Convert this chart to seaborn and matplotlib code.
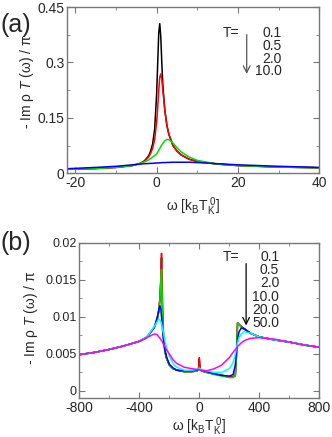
import numpy as np
import pandas as pd
import matplotlib
matplotlib.use("Agg")
import matplotlib.pyplot as plt
from matplotlib.ticker import MultipleLocator, FuncFormatter
import seaborn as sns

# panel (a): spectral function near the Kondo peak
w_a = [-22, -15, -10, -6, -4, -3, -2, -1.5, -1, -0.5, 0, 0.25, 0.5, 0.75, 1, 1.25,
       1.5, 2, 2.5, 3, 4, 5, 6, 8, 10, 15, 20, 30, 40]
a_T01 = [0.011, 0.013, 0.016, 0.021, 0.027, 0.034, 0.047, 0.060, 0.080, 0.12, 0.22, 0.30,
         0.38, 0.405, 0.37, 0.30, 0.24, 0.17, 0.13, 0.105, 0.075, 0.060, 0.050, 0.038,
         0.032, 0.025, 0.021, 0.017, 0.015]
a_T05 = [0.011, 0.013, 0.016, 0.021, 0.027, 0.033, 0.044, 0.054, 0.068, 0.092, 0.14, 0.18,
         0.225, 0.26, 0.269, 0.255, 0.225, 0.17, 0.13, 0.105, 0.075, 0.060, 0.050, 0.038,
         0.032, 0.025, 0.021, 0.017, 0.015]
a_T2 = [0.011, 0.013, 0.016, 0.021, 0.027, 0.031, 0.036, 0.040, 0.044, 0.048, 0.053, 0.057,
        0.062, 0.067, 0.072, 0.077, 0.081, 0.088, 0.092, 0.091, 0.082, 0.069, 0.058, 0.044,
        0.035, 0.025, 0.021, 0.017, 0.015]
a_T10 = [0.0125, 0.016, 0.019, 0.023, 0.025, 0.026, 0.0265, 0.027, 0.027, 0.0275, 0.028, 0.028,
         0.028, 0.0285, 0.0285, 0.029, 0.029, 0.029, 0.0295, 0.0295, 0.030, 0.030, 0.030, 0.030,
         0.029, 0.026, 0.023, 0.019, 0.016]

# panel (b): wide energy range
w_b = [-800, -700, -600, -500, -400, -350, -300, -280, -270, -262, -256, -252, -248, -244,
       -238, -230, -220, -200, -175, -150, -100, -50, -15, -5, 0, 5, 15, 50, 100, 150, 200,
       225, 240, 248, 255, 265, 280, 300, 340, 400, 500, 600, 700, 800]
b_T01 = [0.0049, 0.0052, 0.0056, 0.0061, 0.0067, 0.0072, 0.0086, 0.0097, 0.0108, 0.0126,
         0.0150, 0.0180, 0.0135, 0.0100, 0.0072, 0.0055, 0.0045, 0.0035, 0.0030, 0.0028,
         0.0026, 0.0026, 0.0027, 0.0030, 0.0043, 0.0030, 0.0027, 0.0025, 0.0023, 0.0021,
         0.0019, 0.0019, 0.0021, 0.0050, 0.0092, 0.0090, 0.0087, 0.0084, 0.0078, 0.0073,
         0.0069, 0.0066, 0.0062, 0.0059]
b_T05 = [0.0049, 0.0052, 0.0056, 0.0061, 0.0067, 0.0072, 0.0086, 0.0097, 0.0108, 0.0128,
         0.0155, 0.0186, 0.0140, 0.0100, 0.0072, 0.0055, 0.0045, 0.0035, 0.0030, 0.0028,
         0.0026, 0.0026, 0.0027, 0.0030, 0.0045, 0.0030, 0.0027, 0.0025, 0.0023, 0.0021,
         0.0019, 0.0019, 0.0021, 0.0050, 0.0092, 0.0090, 0.0087, 0.0084, 0.0078, 0.0073,
         0.0069, 0.0066, 0.0062, 0.0059]
b_T2 = [0.0049, 0.0052, 0.0056, 0.0061, 0.0067, 0.0072, 0.0086, 0.0097, 0.0108, 0.0125,
        0.0150, 0.0164, 0.0130, 0.0095, 0.0070, 0.0054, 0.0045, 0.0035, 0.0030, 0.0028,
        0.0026, 0.0026, 0.0027, 0.0029, 0.0032, 0.0029, 0.0027, 0.0025, 0.0022, 0.0020,
        0.0018, 0.0018, 0.0020, 0.0050, 0.0092, 0.0089, 0.0086, 0.0083, 0.0078, 0.0073,
        0.0069, 0.0066, 0.0062, 0.0059]
b_T10 = [0.0049, 0.0052, 0.0056, 0.0061, 0.0067, 0.0073, 0.0086, 0.0100, 0.0110, 0.0115,
         0.0110, 0.0100, 0.0090, 0.0080, 0.0068, 0.0056, 0.0047, 0.0036, 0.0031, 0.0028,
         0.0027, 0.0027, 0.0028, 0.0029, 0.0030, 0.0029, 0.0028, 0.0026, 0.0023, 0.0021,
         0.0020, 0.0022, 0.0035, 0.0055, 0.0070, 0.0080, 0.0085, 0.0084, 0.0078, 0.0073,
         0.0069, 0.0066, 0.0062, 0.0059]
b_T20 = [0.0049, 0.0052, 0.0056, 0.0061, 0.0067, 0.0073, 0.0087, 0.0094, 0.0097, 0.0096,
         0.0093, 0.0090, 0.0087, 0.0083, 0.0077, 0.0069, 0.0060, 0.0047, 0.0037, 0.0032,
         0.0028, 0.0028, 0.0029, 0.0030, 0.0030, 0.0030, 0.0029, 0.0027, 0.0025, 0.0025,
         0.0030, 0.0038, 0.0050, 0.0058, 0.0065, 0.0072, 0.0077, 0.0080, 0.0078, 0.0073,
         0.0069, 0.0066, 0.0062, 0.0059]
b_T50 = [0.0049, 0.0052, 0.0056, 0.0061, 0.0067, 0.0072, 0.0077, 0.0076, 0.0073, 0.0071,
         0.0069, 0.0068, 0.0067, 0.0065, 0.0063, 0.0060, 0.0056, 0.0050, 0.0042, 0.0037,
         0.0032, 0.0030, 0.0029, 0.0029, 0.0029, 0.0028, 0.0028, 0.0027, 0.0030, 0.0035,
         0.0045, 0.0052, 0.0056, 0.0058, 0.0060, 0.0062, 0.0065, 0.0068, 0.0071, 0.0072,
         0.0070, 0.0066, 0.0062, 0.0059]

labels_a = ["0.1", "0.5", "2.0", "10.0"]
labels_b = ["0.1", "0.5", "2.0", "10.0", "20.0", "50.0"]
colors = ["black", "red", "#00dd00", "blue", "cyan", "magenta"]

sns.set_style("ticks")
plt.rcParams['font.family'] = ['Liberation Sans', 'DejaVu Sans']
plt.rcParams['mathtext.fontset'] = 'custom'
plt.rcParams['mathtext.rm'] = 'Liberation Sans'
plt.rcParams['mathtext.it'] = 'Liberation Sans:italic'
plt.rcParams['axes.unicode_minus'] = False
fs = 10

fig = plt.figure(figsize=(3.32, 4.37), dpi=100)
ax1 = fig.add_axes([0.2027, 0.6034, 0.759, 0.3805])
ax2 = fig.add_axes([0.2389, 0.0886, 0.7229, 0.3554])

for y, c in zip([a_T01, a_T05, a_T2, a_T10], colors):
    sns.lineplot(x=w_a, y=y, color=c, linewidth=1.1, estimator=None, ax=ax1)
for y, c in zip([b_T01, b_T05, b_T2, b_T10, b_T20, b_T50], colors):
    sns.lineplot(x=w_b, y=y, color=c, linewidth=1.1, estimator=None, ax=ax2)

ax1.set_xlim(-22, 40)
ax1.set_ylim(0, 0.45)
ax1.xaxis.set_major_locator(MultipleLocator(20))
ax1.xaxis.set_minor_locator(MultipleLocator(10))
ax1.yaxis.set_major_locator(MultipleLocator(0.15))
ax1.yaxis.set_minor_locator(MultipleLocator(0.075))

ax2.set_xlim(-800, 800)
ax2.set_ylim(-0.001, 0.02)
ax2.xaxis.set_major_locator(MultipleLocator(400))
ax2.xaxis.set_minor_locator(MultipleLocator(200))
ax2.yaxis.set_major_locator(MultipleLocator(0.005))
ax2.yaxis.set_minor_locator(MultipleLocator(0.0025))

fmt = FuncFormatter(lambda v, p: "%g" % round(v, 6))
xlab = r'ω [k$_\mathregular{B}$T$_\mathregular{K}^{\ \mathregular{0}}$]'
ylab = r'- Im ρ $\mathit{T}$ (ω) / π'
for ax, lsz in ((ax1, 10), (ax2, 9)):
    ax.yaxis.set_major_formatter(fmt)
    ax.tick_params(which='both', direction='in', top=True, right=True,
                   color='#777777', labelsize=lsz, pad=2)
    ax.tick_params(axis='x', labelsize=10)
    ax.tick_params(which='major', length=4)
    ax.tick_params(which='minor', length=2.5)
    for s in ax.spines.values():
        s.set_color('#777777')
        s.set_linewidth(1.0)
    ax.set_xlabel(xlab, fontsize=fs)
    ax.set_ylabel(ylab, fontsize=fs)

ax1.xaxis.set_label_coords(0.5, -0.135)
ax1.yaxis.set_label_coords(-0.125, 0.55)
ax2.xaxis.set_label_coords(0.5, -0.11)
ax2.yaxis.set_label_coords(-0.165, 0.52)

# temperature annotations
ax1.text(0.617, 0.842, "T=", transform=ax1.transAxes, ha='left', va='center', fontsize=fs)
for i, s in enumerate(labels_a):
    ax1.text(0.851, 0.842 - 0.0758 * i, s, transform=ax1.transAxes, ha='right', va='center',
             fontsize=fs)
ax1.annotate('', xy=(0.712, 0.581), xytext=(0.712, 0.85), xycoords='axes fraction',
             arrowprops=dict(arrowstyle='->', color='#555555', lw=0.9, mutation_scale=12))

ax2.text(0.599, 0.908, "T=", transform=ax2.transAxes, ha='left', va='center', fontsize=fs)
for i, s in enumerate(labels_b):
    ax2.text(0.833, 0.908 - 0.0843 * i, s, transform=ax2.transAxes, ha='right', va='center',
             fontsize=fs)
ax2.annotate('', xy=(0.695, 0.451), xytext=(0.695, 0.885), xycoords='axes fraction',
             arrowprops=dict(arrowstyle='->', color='black', lw=0.9, mutation_scale=12))

fig.text(0.0, 1 - 25 / 437, "(a)", fontsize=18, ha='left', va='center')
fig.text(0.0, 1 - 243 / 437, "(b)", fontsize=18, ha='left', va='center')

fig.savefig("out.png", dpi=100)
